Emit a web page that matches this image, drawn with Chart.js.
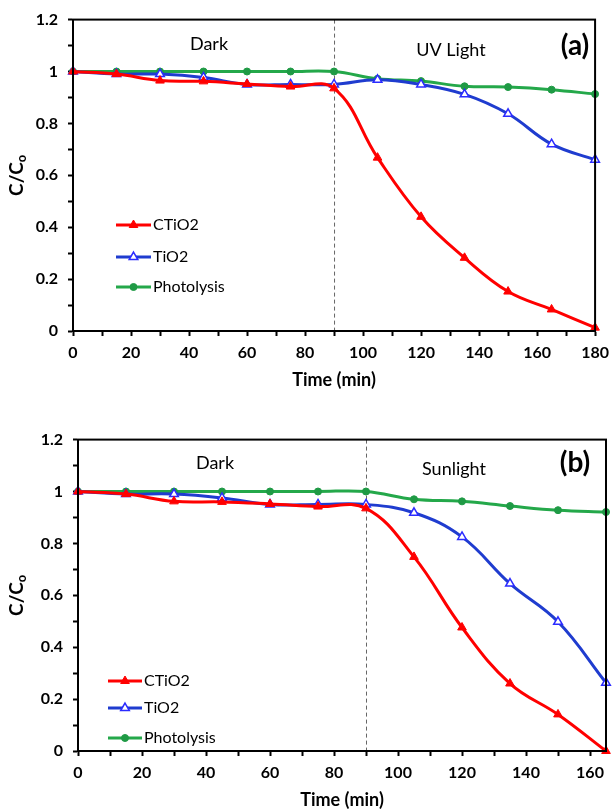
<!DOCTYPE html>
<html>
<head>
<meta charset="utf-8">
<script src="https://cdn.jsdelivr.net/npm/chart.js@4.4.1/dist/chart.umd.min.js"></script>
<style>
    html, body { margin: 0; padding: 0; background: #fff; }
    .panel { position: absolute; left: 0; width: 616px; }
    #wrapA { top: 0; height: 400px; }
    #wrapB { top: 420px; height: 389px; }
</style>
</head>
<body>
<div class="panel" id="wrapA"><canvas id="chartA" width="616" height="400"></canvas></div>
<div class="panel" id="wrapB"><canvas id="chartB" width="616" height="389"></canvas></div>
<script>
// (a) UV light
const timeA = [0, 15, 30, 45, 60, 75, 90, 105, 120, 135, 150, 165, 180];
const ctio2A = [1, 0.99, 0.965, 0.962, 0.952, 0.942, 0.935, 0.668, 0.44, 0.282, 0.152, 0.083, 0.013];
const tio2A = [1, 0.99, 0.99, 0.977, 0.95, 0.95, 0.95, 0.968, 0.95, 0.912, 0.837, 0.72, 0.66];
const photoA = [1, 1, 1, 1, 1, 1, 1, 0.972, 0.963, 0.943, 0.94, 0.93, 0.913];
const xTicksA = [0, 10, 20, 30, 40, 50, 60, 70, 80, 90, 100, 110, 120, 130, 140, 150, 160, 170, 180];

// (b) sunlight
const timeB = [0, 15, 30, 45, 60, 75, 90, 105, 120, 135, 150, 165];
const ctio2B = [1, 0.99, 0.962, 0.96, 0.952, 0.942, 0.935, 0.748, 0.476, 0.26, 0.141, 0];
const tio2B = [1, 0.99, 0.99, 0.975, 0.95, 0.95, 0.95, 0.918, 0.825, 0.645, 0.498, 0.263];
const photoB = [1, 1, 1, 1, 1, 1, 1, 0.97, 0.962, 0.944, 0.928, 0.921];
const xTicksB = [0, 10, 20, 30, 40, 50, 60, 70, 80, 90, 100, 110, 120, 130, 140, 150, 160];

const yTicks = [0, 0.1, 0.2, 0.3, 0.4, 0.5, 0.6, 0.7, 0.8, 0.9, 1, 1.1, 1.2];
const seriesNames = ['CTiO2', 'TiO2', 'Photolysis'];
const lightOnTime = 90;

const FONT = 'Lato, "Open Sans", "Liberation Sans", sans-serif';
const RED = '#ff0000';
const BLUE = '#1f3ccf';
const GREEN = '#24a84a';

function makeDatasets(time, ctio2, tio2, photo) {
    const pts = (ys) => time.map((t, i) => ({ x: t, y: ys[i] }));
    return [
        { label: seriesNames[0], data: pts(ctio2), borderColor: RED, backgroundColor: RED,
          pointStyle: 'triangle', pointRadius: 5, pointBorderWidth: 1, pointBorderColor: RED, pointBackgroundColor: RED },
        { label: seriesNames[1], data: pts(tio2), borderColor: BLUE, backgroundColor: '#fff',
          pointStyle: 'triangle', pointRadius: 5, pointBorderWidth: 1.5, pointBorderColor: '#2b2bff', pointBackgroundColor: '#fff' },
        { label: seriesNames[2], data: pts(photo), borderColor: GREEN, backgroundColor: GREEN,
          pointStyle: 'circle', pointRadius: 3.5, pointBorderWidth: 1, pointBorderColor: '#1f9a45', pointBackgroundColor: '#1f9a45' }
    ].map(d => Object.assign(d, { borderWidth: 3, tension: 0.4, fill: false, clip: false }));
}

const panelDecor = {
    id: 'panelDecor',
    beforeDatasetsDraw(chart, args, o) {
        const { ctx, chartArea } = chart;
        const x = chart.scales.x.getPixelForValue(lightOnTime);
        ctx.save();
        ctx.strokeStyle = '#666';
        ctx.lineWidth = 1;
        ctx.setLineDash([4, 3]);
        ctx.beginPath();
        ctx.moveTo(x + 0.5, chartArea.top);
        ctx.lineTo(x + 0.5, chartArea.bottom);
        ctx.stroke();
        ctx.restore();
    },
    afterDraw(chart, args, o) {
        const { ctx, chartArea: a } = chart;
        ctx.save();
        // frame
        ctx.strokeStyle = '#000';
        ctx.lineWidth = 2;
        ctx.strokeRect(a.left, a.top, a.right - a.left, a.bottom - a.top);

        ctx.fillStyle = '#000';
        ctx.textAlign = 'center';
        ctx.textBaseline = 'middle';
        ctx.font = '18px ' + FONT;
        ctx.fillText('Dark', o.dark[0], o.dark[1]);
        ctx.fillText(o.light, o.lightPos[0], o.lightPos[1]);
        ctx.font = 'bold 28px ' + FONT;
        ctx.fillText(o.tag, o.tagPos[0], o.tagPos[1]);

        // x title
        ctx.font = 'bold 18px ' + FONT;
        ctx.fillText('Time (min)', (a.left + a.right) / 2, o.xTitleY);

        // y title C/Co
        ctx.save();
        ctx.translate(17, (a.top + a.bottom) / 2);
        ctx.rotate(-Math.PI / 2);
        ctx.font = 'bold 19px ' + FONT;
        const w1 = ctx.measureText('C/C').width;
        ctx.font = 'bold 13px ' + FONT;
        const w2 = ctx.measureText('o').width;
        ctx.textAlign = 'left';
        ctx.font = 'bold 19px ' + FONT;
        ctx.fillText('C/C', -(w1 + w2) / 2, 0);
        ctx.font = 'bold 13px ' + FONT;
        ctx.fillText('o', -(w1 + w2) / 2 + w1, 5);
        ctx.restore();

        // legend
        chart.data.datasets.forEach((ds, i) => {
            const y = o.legend.rows[i];
            ctx.strokeStyle = ds.borderColor;
            ctx.lineWidth = 3;
            ctx.beginPath();
            ctx.moveTo(o.legend.x1, y);
            ctx.lineTo(o.legend.x2, y);
            ctx.stroke();
            ctx.fillStyle = ds.pointBackgroundColor;
            ctx.strokeStyle = ds.pointBorderColor;
            ctx.lineWidth = ds.pointBorderWidth;
            Chart.helpers.drawPoint(ctx, { pointStyle: ds.pointStyle, radius: ds.pointRadius, rotation: 0, borderWidth: ds.pointBorderWidth },
                (o.legend.x1 + o.legend.x2) / 2, y);
            ctx.fillStyle = '#000';
            ctx.textAlign = 'left';
            ctx.font = '16px ' + FONT;
            ctx.fillText(ds.label, o.legend.x2 + 2, y);
        });
        ctx.restore();
    }
};

function buildChart(canvasId, p) {
    const canvas = document.getElementById(canvasId);
    const canvasH = canvas.height;
    return new Chart(canvas.getContext('2d'), {
        type: 'line',
        data: { datasets: makeDatasets(p.time, p.ctio2, p.tio2, p.photo) },
        plugins: [panelDecor],
        options: {
            responsive: false,
            animation: false,
            layout: { padding: { left: 0, top: p.area.top, right: 616 - p.area.right, bottom: 0 } },
            plugins: {
                legend: { display: false },
                tooltip: { enabled: false },
                panelDecor: {
                    dark: p.dark, light: p.light, lightPos: p.lightPos, tag: p.tag, tagPos: p.tagPos,
                    xTitleY: p.xTitleY, legend: p.legend
                }
            },
            scales: {
                x: {
                    type: 'linear', min: 0, max: p.xMax,
                    afterBuildTicks: (s) => { s.ticks = p.xTicks.map(v => ({ value: v })); },
                    afterFit: (s) => { s.height = canvasH - p.area.bottom; },
                    ticks: {
                        autoSkip: false, maxRotation: 0, padding: 7, color: '#000',
                        font: { family: FONT, size: 16, weight: 'bold' },
                        callback: (v) => (v % 20 === 0 ? String(v) : '')
                    },
                    grid: { drawOnChartArea: false, drawTicks: true, tickLength: 5, tickColor: '#000', tickWidth: 2 },
                    border: { display: true, color: '#000', width: 2 }
                },
                y: {
                    min: 0, max: 1.2,
                    afterBuildTicks: (s) => { s.ticks = yTicks.map(v => ({ value: v })); },
                    afterFit: (s) => { s.width = p.area.left; },
                    ticks: {
                        autoSkip: false, padding: 10, color: '#000',
                        font: { family: FONT, size: 16, weight: 'bold' },
                        callback: (v, i) => (i % 2 === 0 ? String(Math.round(v * 10) / 10) : '')
                    },
                    grid: { drawOnChartArea: false, drawTicks: true, tickLength: 5, tickColor: '#000', tickWidth: 2 },
                    border: { display: true, color: '#000', width: 2 }
                }
            }
        }
    });
}

buildChart('chartA', {
    time: timeA, ctio2: ctio2A, tio2: tio2A, photo: photoA, xMax: 180, xTicks: xTicksA,
    area: { left: 73, right: 601, top: 18, bottom: 331 },
    dark: [209, 44], light: 'UV Light', lightPos: [451, 50], tag: '(a)', tagPos: [575, 46],
    xTitleY: 380,
    legend: { x1: 116, x2: 151, rows: [225, 257, 287] }
});

buildChart('chartB', {
    time: timeB, ctio2: ctio2B, tio2: tio2B, photo: photoB, xMax: 165, xTicks: xTicksB,
    area: { left: 78, right: 606, top: 17, bottom: 331 },
    dark: [215, 43], light: 'Sunlight', lightPos: [454, 49], tag: '(b)', tagPos: [575, 43],
    xTitleY: 380,
    legend: { x1: 108, x2: 142, rows: [261, 288, 318] }
});
</script>
</body>
</html>
